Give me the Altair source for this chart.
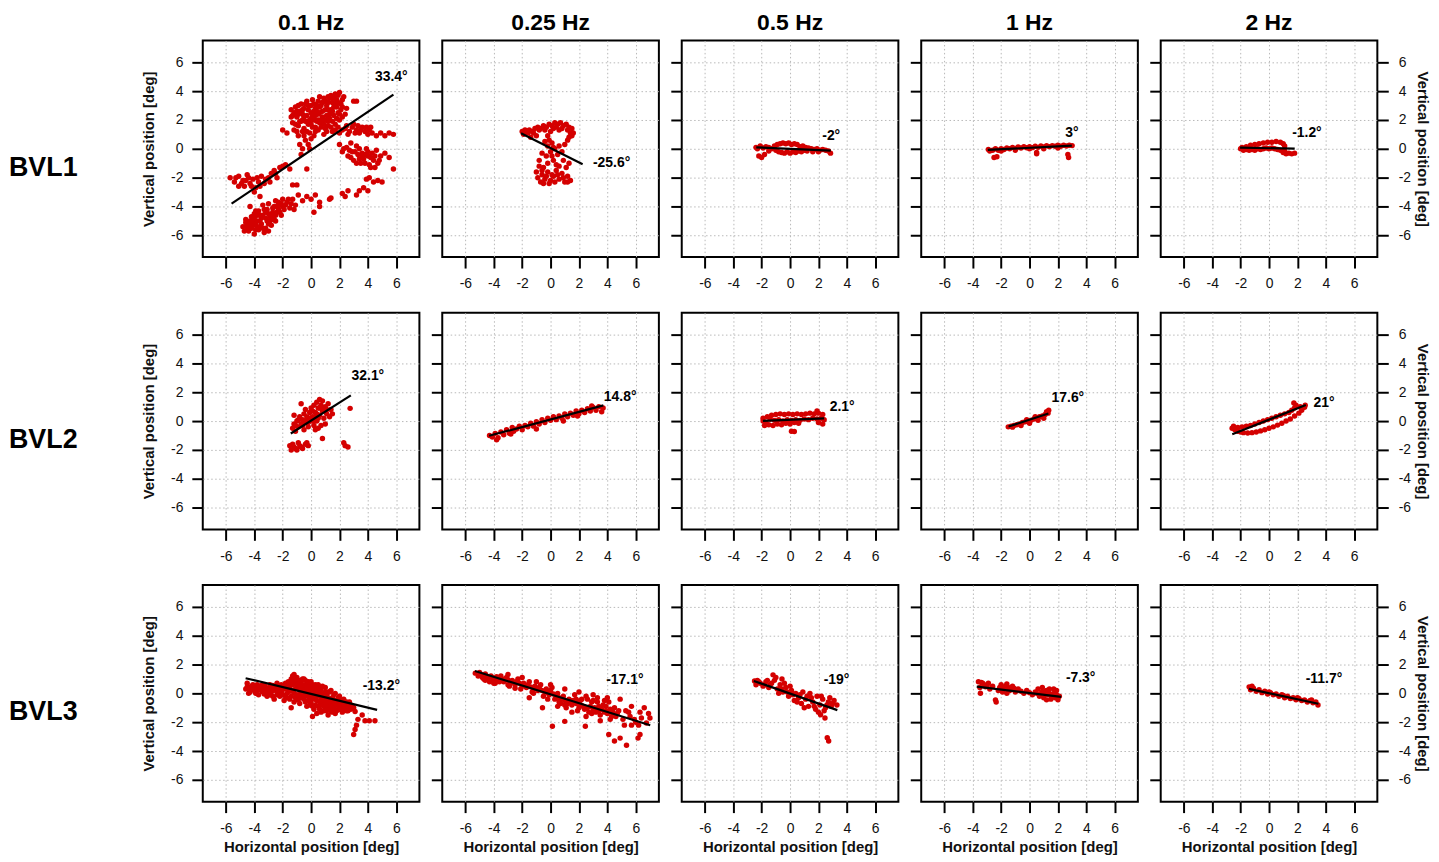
import altair as alt
import pandas as pd

SUBJECTS = ["BVL1", "BVL2", "BVL3"]
FREQS = ["0.1 Hz", "0.25 Hz", "0.5 Hz", "1 Hz", "2 Hz"]
TICKS = [-6, -4, -2, 0, 2, 4, 6]

# ---------- eye position samples (horizontal, vertical) [deg] ----------
BVL1_01 = [
    (-1.4, 2.7), (-1.4, 2.2), (-1.3, 1.8), (-1.2, 2.5), (-1.1, 2.9), (-1.0, 2.2), (-0.9, 1.6), (-0.8, 2.6),
    (-0.7, 3.1), (-0.6, 2.0), (-0.5, 1.4), (-0.5, 2.8), (-0.3, 3.3), (-0.3, 2.3), (-0.2, 1.7), (-0.1, 1.1),
    (0.0, 3.0), (0.0, 2.5), (0.1, 3.4), (0.2, 2.0), (0.3, 1.5), (0.3, 2.8), (0.5, 3.3), (0.5, 2.4),
    (0.6, 1.8), (0.7, 3.0), (0.8, 2.2), (0.9, 3.5), (1.0, 2.7), (1.0, 1.4), (1.2, 3.2), (1.3, 2.4),
    (1.4, 3.7), (1.5, 1.9), (1.6, 2.9), (1.7, 3.8), (1.8, 3.4), (1.9, 2.5), (2.0, 3.9), (2.1, 3.1),
    (2.2, 2.2), (2.3, 3.6), (2.5, 2.8), (3.0, 3.3), (3.2, 3.3),
    (-1.2, 1.3), (-1.0, 2.6), (-0.9, 3.0), (-0.7, 1.9), (-0.6, 2.4), (-0.4, 1.9), (-0.4, 3.1), (-0.2, 2.7),
    (-0.1, 2.0), (0.1, 1.5), (0.1, 2.3), (0.2, 3.1), (0.4, 1.9), (0.4, 2.6), (0.6, 3.6), (0.6, 2.9),
    (0.7, 2.0), (0.8, 2.6), (0.9, 1.7), (1.1, 2.3), (1.1, 3.0), (1.2, 1.9), (1.3, 3.5), (1.4, 2.7),
    (1.5, 3.2), (1.6, 2.3), (1.7, 1.7), (1.8, 2.9), (1.9, 3.7), (2.0, 2.0), (2.1, 2.7), (2.2, 3.4),
    (2.4, 2.4), (-0.3, 1.2), (0.2, 0.9), (-0.5, 0.9), (-0.1, 0.0), (0.3, 1.2),
    (-1.3, 2.3), (-1.1, 1.7), (-0.9, 2.4), (-0.8, 1.9), (-0.6, 2.7), (-0.5, 2.2), (-0.3, 1.9), (-0.2, 3.0),
    (0.0, 2.1), (0.0, 1.7), (0.2, 2.6), (0.3, 2.3), (0.4, 3.0), (0.5, 2.0), (0.6, 2.5), (0.8, 3.2),
    (0.8, 1.8), (1.0, 2.0), (1.0, 3.3), (1.2, 2.7), (1.3, 2.1), (1.5, 3.5), (1.5, 2.6), (1.7, 3.1),
    (1.8, 2.1), (1.9, 3.2), (2.0, 2.4), (2.2, 2.9), (1.6, 3.6), (1.2, 3.6),
    (-0.9, 0.9), (-0.8, 0.3), (-0.6, 0.0), (-0.7, -0.4), (-0.4, 0.6), (-0.2, 0.3), (0.0, 0.7), (-1.0, 1.2),
    (-2.0, 1.3), (-1.7, 1.1), (-0.6, 1.2),
    (0.5, 1.3), (0.9, 1.0), (1.2, 1.6), (1.5, 1.2), (1.9, 1.5), (2.2, 1.3), (2.5, 1.6), (2.7, 1.2),
    (2.9, 1.5), (3.2, 1.3), (3.4, 1.1), (3.6, 1.5), (3.8, 1.2), (4.0, 1.0), (4.3, 1.1), (4.6, 0.9),
    (4.9, 1.1), (5.2, 0.9), (5.5, 1.1), (5.8, 1.0), (4.2, 1.5), (3.0, 1.7),
    (0.7, 1.5), (1.1, 1.2), (1.4, 1.5), (1.7, 1.3), (2.0, 1.1), (2.4, 1.4), (2.6, 1.0), (3.1, 1.1),
    (3.3, 1.6), (3.5, 1.3), (3.9, 1.5), (4.1, 1.3),
    (2.0, 0.3), (2.2, -0.2), (2.5, 0.1), (2.6, -0.5), (2.9, -0.2), (3.0, -0.8), (3.2, 0.2), (3.3, -0.4),
    (3.5, -1.0), (3.6, -0.3), (3.7, -0.7), (3.9, 0.0), (4.0, -0.5), (4.1, -1.1), (4.3, -0.3), (4.4, -0.8),
    (4.6, -0.1), (4.7, -1.0), (4.9, -0.5), (5.2, -0.3), (5.5, -0.6), (5.8, -1.4), (4.5, -1.3), (3.2, -1.0),
    (2.8, 0.4),
    (2.3, 0.0), (2.7, -0.1), (2.8, -0.6), (3.1, -0.2), (3.4, -0.7), (3.4, 0.0), (3.8, -0.4), (3.8, -1.0),
    (4.2, -0.6), (4.5, -0.5), (4.8, -0.8), (4.0, -0.2), (3.6, -0.5), (4.2, -1.3),
    (1.4, -3.4), (2.2, -3.1), (2.4, -3.3), (2.6, -2.9), (3.4, -2.9), (3.7, -2.7), (3.9, -2.1), (4.1, -2.0),
    (4.4, -2.3), (4.7, -2.2), (5.0, -2.3), (3.2, -3.2), (4.0, -2.9),
    (-5.7, -2.0), (-5.4, -2.3), (-5.1, -1.9), (-5.1, -2.6), (-4.8, -2.2), (-4.7, -2.6), (-4.5, -1.8), (-4.3, -2.4),
    (-4.1, -2.1), (-3.9, -2.7), (-3.7, -2.3), (-3.5, -1.9), (-3.3, -2.4), (-3.0, -2.0), (-2.8, -1.7), (-2.6, -1.5),
    (-2.4, -2.0), (-2.2, -1.3), (-2.0, -1.2), (-1.8, -1.1), (-1.5, -1.4), (-1.3, -2.5), (-1.0, -2.5), (-0.3, -1.4),
    (-4.0, -3.0),
    (-5.3, -2.0), (-4.9, -2.4), (-4.6, -2.2), (-4.4, -2.0), (-4.2, -2.6), (-3.8, -2.0), (-3.6, -2.6), (-3.2, -2.1),
    (-2.9, -2.3), (-2.5, -1.7),
    (-4.8, -5.4), (-4.6, -5.1), (-4.4, -5.7), (-4.2, -4.7), (-4.1, -5.3), (-4.0, -5.9), (-3.9, -4.3), (-3.8, -5.0),
    (-3.7, -5.6), (-3.6, -4.6), (-3.5, -5.2), (-3.4, -3.9), (-3.3, -5.8), (-3.2, -4.4), (-3.1, -5.0), (-3.0, -3.8),
    (-2.9, -4.7), (-2.8, -5.3), (-2.7, -4.1), (-2.6, -4.9), (-2.5, -3.6), (-2.4, -4.4), (-2.2, -3.9), (-2.1, -4.6),
    (-2.0, -3.5), (-1.9, -4.2), (-1.7, -3.7), (-1.5, -4.1), (-1.3, -3.5), (-1.1, -3.9), (-0.9, -3.2), (-0.6, -3.6),
    (-0.3, -3.3), (0.0, -3.5), (0.3, -3.2), (0.6, -3.7), (0.2, -4.4), (0.6, -4.0), (1.3, -3.5), (-3.6, -3.3),
    (-4.3, -4.0),
    (-4.7, -5.7), (-4.5, -5.3), (-4.3, -5.0), (-4.0, -4.8), (-3.9, -5.6), (-3.7, -4.3), (-3.6, -5.4), (-3.5, -4.8),
    (-3.3, -4.2), (-3.2, -5.5), (-3.0, -4.5), (-2.9, -5.0), (-3.0, -5.7), (-2.7, -4.6), (-2.6, -4.0), (-2.5, -5.0),
    (-2.3, -4.2), (-2.3, -3.7), (-2.0, -4.0), (-1.8, -3.9), (-1.6, -3.5), (-1.4, -3.8), (-1.2, -4.2), (-3.8, -4.6),
    (-4.2, -5.5), (-4.6, -4.9),
    (-4.5, -5.5), (-4.3, -5.3), (-4.1, -5.0), (-3.9, -5.2), (-3.8, -5.4), (-3.6, -5.0), (-3.4, -5.5), (-3.4, -4.6),
    (-3.2, -4.8), (-3.0, -5.2), (-2.8, -4.9), (-2.7, -4.4), (-2.5, -4.6), (-2.4, -4.0), (-2.2, -4.4), (-2.1, -3.8),
    (-3.1, -4.2), (-4.0, -4.5),
]
BVL1_025 = [
    (-2.0, 1.2), (-1.9, 1.0), (-1.8, 1.3), (-1.6, 1.1), (-1.5, 1.3), (-1.3, 1.2), (-1.1, 1.4), (-0.9, 1.5),
    (-0.7, 1.4), (-0.5, 1.6), (-0.3, 1.5), (-0.1, 1.7), (0.1, 1.6), (0.3, 1.8), (0.5, 1.7), (0.7, 1.8),
    (0.9, 1.6), (1.1, 1.7), (1.3, 1.5), (1.5, 1.4), (1.6, 1.1), (1.5, 0.9), (1.2, 0.6), (1.0, 0.3),
    (1.3, 0.8), (0.6, 1.3), (-0.2, 0.9), (0.0, 1.2), (-1.4, 0.8), (-1.0, 0.9),
    (-1.7, 1.2), (-1.2, 1.1), (-0.8, 1.3), (-0.4, 1.3), (0.2, 1.4), (0.4, 1.5), (0.8, 1.4), (1.2, 1.3),
    (1.4, 1.1),
    (-0.4, 0.5), (-0.2, 0.2), (0.1, 0.4), (0.3, 0.0), (0.0, -0.2), (-0.3, -0.5), (0.2, -0.8), (0.5, -0.4),
    (0.6, 0.2), (-0.6, -0.3), (0.8, -0.2), (0.4, -1.1), (-0.1, 0.6), (0.2, 0.1), (0.1, -0.5), (-0.2, -1.0),
    (0.6, -1.2),
    (-1.0, -1.6), (-0.9, -2.0), (-0.8, -1.2), (-0.7, -2.3), (-0.6, -1.8), (-0.5, -1.3), (-0.4, -2.1), (-0.2, -1.6),
    (0.0, -2.2), (0.2, -1.9), (0.4, -1.5), (0.6, -2.1), (0.8, -1.7), (1.0, -2.3), (1.2, -1.9), (1.4, -2.2),
    (1.1, -1.3), (1.3, -1.0), (-0.8, -0.8), (-0.1, -2.4), (0.9, -0.8),
    (-0.5, -2.4), (-0.3, -1.9), (0.1, -1.8), (0.5, -1.8), (0.9, -2.0), (1.2, -2.3), (-0.6, -1.5), (0.3, -2.3),
]
BVL1_05 = [
    (-2.4, 0.1), (-2.3, 0.0), (-2.2, -0.5), (-2.0, -0.6), (-1.8, -0.4), (-2.1, 0.2), (-1.9, 0.05), (-1.7, 0.15),
    (-1.5, 0.1), (-1.3, 0.0), (-1.1, 0.2), (-0.9, 0.3), (-0.7, 0.35), (-0.5, 0.4), (-0.3, 0.35), (-0.1, 0.4),
    (0.1, 0.3), (0.3, 0.35), (0.5, 0.3), (-1.0, -0.1), (-0.8, -0.2), (-0.6, -0.25), (-0.4, -0.3), (-0.2, -0.2),
    (0.0, -0.3), (0.2, -0.2), (0.4, -0.25), (0.6, -0.15), (0.8, -0.2), (1.0, -0.1), (1.2, -0.15), (0.7, 0.15),
    (0.9, 0.2), (1.1, 0.1), (1.3, 0.05), (1.5, 0.0), (1.7, -0.05), (1.9, 0.0), (2.1, -0.1), (2.3, -0.05),
    (2.5, -0.1), (2.7, -0.15), (2.85, -0.3), (1.6, -0.2), (2.0, -0.2), (-1.5, -0.15),
]
BVL1_1 = [
    (-2.9, -0.05), (-2.8, -0.15), (-2.6, -0.1), (-2.5, -0.6), (-2.3, -0.55), (-2.4, 0.0), (-2.2, -0.1), (-2.0, 0.0),
    (-1.8, -0.05), (-1.6, 0.05), (-1.4, 0.0), (-1.2, 0.1), (-1.0, 0.02), (-0.8, 0.12), (-0.6, 0.05), (-0.4, 0.15),
    (-0.2, 0.07), (0.0, 0.15), (0.2, 0.08), (0.4, 0.18), (0.5, -0.25), (0.5, -0.35), (0.6, 0.1), (0.8, 0.2),
    (1.0, 0.12), (1.2, 0.22), (1.4, 0.15), (1.6, 0.22), (1.8, 0.17), (2.0, 0.25), (2.2, 0.18), (2.4, 0.25),
    (2.6, 0.2), (2.7, -0.4), (2.75, -0.6), (2.8, 0.25), (3.0, 0.22), (-1.0, -0.1), (0.0, 0.0), (1.0, 0.0),
    (2.0, 0.05), (-2.0, -0.15),
]
BVL1_2 = [
    (-2.0, 0.0), (-1.8, -0.1), (-1.6, -0.05), (-1.4, -0.1), (-1.2, -0.05), (-1.0, -0.1), (-0.8, 0.0), (-0.6, -0.05),
    (-0.4, 0.0), (-0.2, 0.05), (0.0, 0.0), (0.2, 0.05), (0.4, 0.0), (0.6, -0.05), (0.8, -0.1), (1.0, -0.25),
    (1.2, -0.35), (1.4, -0.3), (1.6, -0.35), (1.8, -0.3), (1.1, -0.15),
    (-1.6, 0.15), (-1.3, 0.25), (-1.0, 0.3), (-0.7, 0.35), (-0.4, 0.4), (-0.1, 0.45), (0.2, 0.45), (0.5, 0.5),
    (0.8, 0.45), (1.0, 0.35), (1.1, 0.2), (-1.9, 0.1),
]
BVL2_01 = [
    (-1.3, -0.5), (-1.2, -0.2), (-1.1, -0.7), (-1.0, 0.0), (-0.9, -0.4), (-0.8, 0.3), (-0.7, -0.2), (-0.6, 0.1),
    (-0.5, -0.6), (-0.5, 0.5), (-0.4, -0.1), (-0.3, 0.3), (-0.2, -0.4), (-0.1, 0.6), (0.0, 0.0), (0.0, 0.9),
    (0.1, 0.3), (0.2, -0.3), (0.2, 1.1), (0.3, 0.6), (0.4, 0.0), (0.4, 1.3), (0.5, 0.9), (0.6, 0.4),
    (0.6, 1.5), (0.7, 1.1), (0.8, 0.7), (0.8, 1.4), (0.9, 0.2), (1.0, 1.0), (1.1, 0.5), (1.2, 1.2),
    (1.3, 0.3), (1.4, 0.8), (1.5, 0.5), (0.3, -0.6), (0.5, -0.5), (0.7, -0.3), (1.0, -0.2), (0.8, -1.2),
    (-0.7, 1.2), (-0.4, 0.8), (-1.2, 0.4),
    (-1.1, -0.3), (-0.9, 0.1), (-0.6, -0.3), (-0.3, 0.0), (-0.1, 0.2), (0.1, 0.7), (0.3, 0.3), (0.5, 0.2),
    (0.6, 0.9), (0.9, 0.9), (1.1, 0.8), (0.4, 0.5), (-0.2, -0.1), (0.2, 0.0),
    (-1.5, -1.7), (-1.4, -2.0), (-1.2, -1.8), (-1.0, -2.0), (-0.8, -1.7), (-0.6, -1.9), (-0.4, -1.6), (-0.2, -1.7),
    (-1.3, -1.6), (-0.9, -1.5), (-1.1, -1.9), (-0.7, -1.8), (-0.3, -1.5),
    (2.75, 0.88), (2.3, -1.5), (2.4, -1.7), (2.6, -1.8),
]
BVL2_025 = [
    (-4.3, -1.0), (-4.1, -1.1), (-3.9, -0.85), (-3.7, -1.15), (-3.5, -0.75), (-3.3, -0.95), (-3.1, -0.6), (-2.9, -0.85),
    (-2.7, -0.45), (-2.6, -0.7), (-2.4, -0.55), (-2.2, -0.35), (-2.0, -0.6), (-1.8, -0.3), (-1.6, -0.4), (-1.4, -0.15),
    (-1.2, -0.35), (-1.0, -0.05), (-0.8, -0.2), (-0.6, 0.1), (-0.4, -0.1), (-0.2, 0.2), (0.0, 0.05), (0.2, 0.3),
    (0.4, 0.1), (0.6, 0.35), (0.8, 0.2), (1.0, 0.5), (1.2, 0.3), (1.4, 0.55), (1.6, 0.4), (1.8, 0.7),
    (2.0, 0.5), (2.2, 0.75), (2.4, 0.6), (2.6, 0.85), (2.8, 0.7), (3.0, 0.95), (3.2, 0.75), (3.4, 1.0),
    (3.6, 0.65), (3.7, 0.9), (-3.8, -1.3), (-2.8, -0.9), (0.9, 0.0), (1.9, 0.35), (-1.0, -0.55), (2.9, 1.05),
]
BVL2_05 = [
    (-1.6, 0.3), (-1.3, 0.4), (-1.0, 0.45), (-0.7, 0.5), (-0.4, 0.45), (-0.1, 0.5), (0.2, 0.45), (0.5, 0.5),
    (0.8, 0.45), (1.1, 0.5), (1.4, 0.55), (1.7, 0.5), (2.0, 0.55), (2.3, 0.45), (1.9, 0.7),
    (-1.9, 0.0), (-1.9, 0.2), (-1.7, -0.1), (-1.4, 0.15), (-1.1, 0.05), (-0.8, 0.1), (-0.5, 0.0), (-0.2, 0.1),
    (0.1, 0.05), (0.4, 0.1), (0.7, 0.05), (1.0, 0.15), (1.3, 0.1), (1.6, 0.2), (1.9, 0.15), (2.2, 0.2),
    (2.4, 0.1),
    (-1.8, -0.3), (-1.5, -0.25), (-1.2, -0.3), (-0.9, -0.2), (-0.6, -0.25), (-0.3, -0.15), (0.0, -0.2), (0.3, -0.1),
    (0.6, -0.15), (2.0, -0.1), (2.3, -0.2), (0.1, -0.7), (0.3, -0.72),
]
BVL2_1 = [
    (-1.5, -0.4), (-1.3, -0.35), (-1.1, -0.3), (-0.9, -0.25), (-0.7, -0.2), (-0.5, -0.1), (-0.3, -0.05), (-0.1, 0.0),
    (0.1, 0.05), (0.3, 0.15), (0.5, 0.2), (0.7, 0.3), (0.9, 0.35), (1.1, 0.45), (1.3, 0.55), (1.35, 0.75),
    (1.2, 0.65), (-1.2, -0.42), (-0.6, -0.3), (0.0, -0.15), (0.6, 0.05), (1.0, 0.2), (0.4, 0.3), (-0.2, 0.1),
]
BVL2_2 = [
    (-2.6, -0.5), (-2.4, -0.6), (-2.2, -0.7), (-2.0, -0.75), (-1.8, -0.8), (-1.5, -0.82), (-1.2, -0.8), (-0.9, -0.75),
    (-0.6, -0.68), (-0.3, -0.6), (0.0, -0.5), (0.3, -0.4), (0.6, -0.28), (0.9, -0.15), (1.2, 0.0), (1.5, 0.15),
    (1.8, 0.35), (2.1, 0.55), (2.3, 0.75), (2.5, 0.95), (2.55, 1.1),
    (-2.5, -0.35), (-2.2, -0.45), (-1.9, -0.4), (-1.6, -0.35), (-1.3, -0.3), (-1.0, -0.2), (-0.7, -0.1), (-0.4, 0.0),
    (-0.1, 0.1), (0.2, 0.2), (0.5, 0.3), (0.8, 0.4), (1.1, 0.5), (1.4, 0.6), (1.6, 0.75), (1.8, 0.9),
    (1.75, 1.25), (1.9, 1.1), (2.2, 1.0),
]
BVL3_01 = [
    (-4.6, 0.3), (-4.5, 0.7), (-4.4, 0.0), (-4.2, 0.5), (-4.0, 0.2), (-3.8, 0.6), (-3.7, -0.1), (-3.5, 0.3),
    (-3.4, 0.13), (-3.3, 0.6), (-3.1, -0.2), (-3.0, 0.35), (-2.8, 0.1), (-2.7, 0.55), (-2.6, -0.4), (-2.5, 0.2),
    (-2.3, 0.5), (-2.2, -0.2), (-2.0, 0.3), (-1.9, -0.5), (-1.8, 0.7), (-1.7, 0.0), (-1.5, 0.5), (-1.5, -0.4),
    (-1.4, 1.0), (-1.3, 0.2), (-1.2, 1.3), (-1.2, -0.6), (-1.1, 0.7), (-1.0, -0.1), (-1.0, 1.1), (-0.9, 0.4),
    (-0.8, -0.7), (-0.8, 0.9), (-0.7, 0.1), (-0.6, 0.6), (-0.5, -0.4), (-0.5, 1.0), (-0.4, 0.2), (-0.3, -0.9),
    (-0.3, 0.7), (-0.2, -0.2), (-0.1, 0.4), (0.0, -0.6), (0.0, 0.8), (0.1, 0.0), (0.2, -1.1), (0.2, 0.5),
    (0.3, -0.4), (0.4, 0.2), (0.5, -0.9), (0.5, 0.6), (0.6, -0.2), (0.7, -1.3), (0.7, 0.3), (0.8, -0.6),
    (0.9, 0.0), (1.0, -1.0), (1.0, 0.4), (1.1, -0.4), (1.2, -1.5), (1.2, 0.1), (1.3, -0.7), (1.4, -1.2),
    (1.4, 0.2), (1.5, -0.3), (1.6, -0.9), (1.7, -1.4), (1.7, 0.0), (1.8, -0.5), (1.9, -1.1), (2.0, -0.2),
    (2.1, -0.8), (2.2, -1.3), (2.3, -0.4), (2.4, -1.0), (2.5, -0.6), (2.6, -1.2), (2.8, -0.8), (3.0, -1.0),
    (0.1, -1.6), (-1.4, -1.0), (-3.45, 0.13), (0.4, -1.4),
    (-4.3, 0.3), (-4.1, 0.6), (-3.9, 0.0), (-3.6, 0.5), (-3.2, 0.4), (-2.9, 0.6), (-2.9, -0.1), (-2.6, 0.3),
    (-2.4, -0.1), (-2.4, 0.7), (-2.1, 0.1), (-2.1, 0.6), (-1.9, 0.3), (-1.8, -0.2), (-1.6, 0.8), (-1.6, 0.2),
    (-1.4, -0.2), (-1.3, 0.6), (-1.3, 1.2), (-1.1, 0.3), (-1.1, -0.3), (-0.9, 0.9), (-0.9, -0.4), (-0.7, 0.5),
    (-0.7, -0.3), (-0.6, 1.0), (-0.6, -0.1), (-0.5, 0.4), (-0.4, 0.9), (-0.4, -0.6), (-0.2, 0.5), (-0.2, -0.5),
    (-0.1, 0.1), (-0.1, -0.8), (0.1, 0.6), (0.1, -0.3), (0.2, 0.2), (0.3, -0.8), (0.3, 0.6), (0.4, -0.1),
    (0.5, 0.3), (0.6, -0.6), (0.6, -1.1), (0.7, 0.0), (0.8, -0.3), (0.8, 0.5), (0.9, -0.9), (1.0, -0.6),
    (1.1, -0.1), (1.1, -1.2), (1.2, -0.3), (1.3, -1.0), (1.3, 0.1), (1.5, -0.6), (1.5, -1.3), (1.6, -0.1),
    (1.7, -0.7), (1.8, -1.2), (1.9, -0.3), (2.0, -0.9), (2.1, -0.5), (2.2, -1.0), (2.4, -0.7), (2.5, -1.2),
    (2.7, -1.0), (2.7, -0.6), (2.9, -0.9), (-0.8, 0.2), (0.0, -0.3), (0.9, -0.6),
    (-4.5, 0.45), (-4.3, 0.1), (-4.1, 0.35), (-3.9, 0.45), (-3.7, 0.25), (-3.5, 0.55), (-3.3, -0.05), (-3.2, 0.2),
    (-3.0, 0.05), (-2.8, 0.4), (-2.7, -0.2), (-2.5, 0.45), (-2.3, 0.2), (-2.2, 0.35), (-2.0, -0.1), (-1.9, 0.55),
    (-1.7, 0.45), (-1.7, -0.3), (-1.5, 0.15), (-1.4, 0.7), (-1.2, 0.0), (-1.2, 0.9), (-1.0, 0.4), (-1.0, -0.45),
    (-0.9, 0.65), (-0.8, -0.2), (-0.7, 0.8), (-0.6, 0.3), (-0.5, -0.2), (-0.4, 0.5), (-0.3, 0.0), (-0.2, 0.8),
    (-0.1, -0.4), (0.0, 0.2), (0.1, -0.9), (0.2, 0.35), (0.3, -0.2), (0.4, -0.5), (0.5, 0.0), (0.6, 0.4),
    (0.7, -0.8), (0.8, -0.1), (0.9, -1.2), (1.0, 0.1), (1.1, -0.8), (1.2, -0.6), (1.4, -0.4), (1.4, -0.9),
    (1.6, -0.5), (1.6, -1.1), (1.8, -0.8), (1.9, -0.6), (2.0, -1.1), (2.2, -0.6), (2.3, -0.8), (2.6, -0.9),
    (2.8, -1.1), (0.3, 0.1), (-0.3, 0.4), (0.7, -0.5),
    (3.1, -1.25), (3.3, -1.8), (3.1, -2.5), (3.0, -2.85), (3.2, -2.2), (3.8, -1.9), (4.1, -1.9), (4.5, -1.9),
    (3.6, -1.5),
]
BVL3_025 = [
    (-5.3, 1.4), (-5.1, 1.2), (-4.9, 1.3), (-4.7, 1.0), (-4.5, 1.2), (-4.3, 0.8), (-4.1, 1.1), (-3.9, 0.7),
    (-3.7, 1.0), (-3.5, 1.2), (-3.3, 0.8), (-3.1, 1.1), (-2.9, 0.5), (-2.7, 0.9), (-2.5, 0.6), (-2.3, 1.0),
    (-2.1, 0.3), (-1.9, 0.7), (-1.7, 0.4), (-1.5, 0.8), (-1.3, 0.1), (-1.1, 0.5), (-0.9, 0.2), (-0.7, 0.6),
    (-0.5, -0.2), (-0.3, 0.3), (-0.1, -0.1), (0.1, 0.4), (0.3, -0.4), (0.5, 0.0), (0.7, -0.7), (0.9, -0.2),
    (1.1, -1.0), (1.3, -0.4), (1.5, -0.8), (1.7, -0.1), (1.9, -1.2), (2.1, -0.5), (2.3, -0.9), (2.5, -0.2),
    (2.7, -1.3), (2.9, -0.6), (3.1, -1.0), (3.3, -0.3), (3.5, -1.5), (3.7, -0.8), (3.9, -1.2), (4.1, -0.6),
    (4.3, -1.6), (4.5, -1.0), (4.7, -1.4), (4.9, -0.4), (5.1, -1.8), (5.3, -1.2), (5.6, -1.6), (5.7, -0.9),
    (6.0, -2.0), (6.3, -1.3), (6.6, -1.0), (6.9, -1.4), (7.0, -1.7), (6.75, -2.05), (-0.57, -1.0), (0.13, -2.28),
    (1.0, -1.94), (2.45, -2.28), (4.1, -2.85), (4.5, -3.3), (4.9, -3.1), (5.35, -3.6), (6.16, -3.1), (6.3, -2.85),
    (5.2, -2.2), (5.7, -2.2), (6.2, -2.2), (-4.0, 0.7), (-3.0, 1.3), (-2.0, 1.1), (-1.0, 0.8), (0.0, 0.6),
    (1.0, 0.3), (2.0, 0.1), (3.0, -0.1), (4.0, -0.3), (1.5, -1.3), (2.5, -1.6), (3.5, -1.9), (0.5, -0.9),
    (-1.5, -0.3),
    (-4.8, 1.1), (-4.4, 1.0), (-4.0, 0.9), (-3.6, 0.8), (-3.2, 0.9), (-2.8, 0.7), (-2.4, 0.8), (-2.0, 0.5),
    (-1.6, 0.6), (-1.2, 0.3), (-0.8, 0.4), (-0.4, 0.1), (0.0, 0.2), (0.4, -0.2), (0.8, -0.4), (1.2, -0.7),
    (1.6, -0.5), (2.0, -0.7), (2.4, -1.1), (2.8, -0.9), (3.2, -1.3), (3.6, -1.1), (4.0, -1.4), (4.4, -1.3),
    (2.2, -0.4), (3.0, -0.5), (3.4, -0.9), (3.8, -0.5), (2.6, -0.4),
    (-5.0, 1.45), (-4.6, 1.35), (-4.2, 1.2), (-3.8, 1.15), (-3.4, 1.0), (-3.0, 0.95), (-2.6, 0.75), (-2.2, 0.7),
    (-1.8, 0.55), (-1.4, 0.45), (-1.0, 0.35), (-0.6, 0.2), (-0.2, 0.05), (0.2, -0.05), (0.6, -0.3), (1.0, -0.5),
    (1.4, -0.5), (1.8, -0.7), (2.2, -0.85), (2.6, -1.0), (3.0, -1.1), (3.4, -1.2), (3.8, -1.3), (4.2, -1.1),
    (4.6, -1.6), (-4.6, 0.9), (-3.0, 0.6), (-2.5, 0.35), (-1.2, 0.0), (-0.2, -0.4), (0.6, -0.6), (1.0, -0.8),
    (1.8, -0.4), (2.0, -1.0), (2.9, -1.4), (3.3, -0.6), (3.9, -0.9), (4.2, -1.8), (4.8, -1.2), (5.5, -1.3),
    (6.4, -1.7), (5.9, -1.8),
]
BVL3_05 = [
    (-2.5, 0.85), (-2.4, 0.6), (-2.3, 0.9), (-2.1, 0.7), (-1.9, 0.5), (-1.7, 0.8), (-1.5, 0.4), (-1.3, 0.7),
    (-1.2, 1.28), (-1.0, 1.1), (-0.9, 0.3), (-0.7, 0.6), (-0.57, 1.0), (-0.5, 0.1), (-0.3, 0.4), (-0.1, -0.2),
    (0.1, 0.2), (0.3, -0.5), (0.4, 0.0), (0.6, -0.3), (0.8, -0.7), (0.9, 0.1), (1.1, -0.4), (1.3, -0.9),
    (1.4, 0.0), (1.6, -0.6), (1.8, -1.1), (1.9, -0.2), (2.1, -0.8), (2.15, -1.48), (2.3, -0.4), (2.46, -1.7),
    (2.5, -1.0), (2.7, -0.6), (2.9, -0.9), (3.1, -0.5), (3.3, -0.8), (2.62, -3.08), (2.72, -3.3), (-1.6, 0.9),
    (-0.8, 0.0), (0.0, 0.5), (1.0, -1.0), (2.0, -1.3), (-0.2, 0.1), (0.7, -0.1), (1.5, -0.3), (2.2, -0.2),
    (-2.2, 0.8), (-1.8, 0.6), (-1.4, 0.6), (-1.1, 0.9), (-0.6, 0.3), (-0.4, 0.7), (0.2, -0.1), (0.5, -0.6),
    (1.2, -0.2), (1.7, -0.9), (2.4, -1.2), (2.6, -0.8), (2.8, -0.3), (3.0, -0.7),
]
BVL3_1 = [
    (-3.6, 0.8), (-3.4, 0.75), (-3.2, 0.6), (-3.0, 0.55), (-3.46, 0.01), (-3.5, 0.4), (-2.4, -0.45), (-2.35, -0.6),
    (-2.8, 0.3), (-2.6, 0.5), (-2.2, 0.2), (-2.0, 0.6), (-1.8, 0.3), (-1.6, 0.65), (-1.4, 0.2), (-1.2, 0.5),
    (-1.0, 0.1), (-1.6, 0.0), (-1.9, 0.1), (-0.8, 0.3), (-0.6, 0.15), (-0.4, 0.0), (-0.2, 0.2), (0.0, 0.05),
    (0.2, -0.1), (0.4, 0.1), (0.6, 0.3), (0.7, -0.2), (0.9, 0.4), (1.0, -0.3), (1.1, 0.1), (1.3, -0.1),
    (1.4, 0.3), (1.5, -0.4), (1.7, 0.0), (1.8, -0.3), (1.9, 0.2), (2.1, -0.2), (2.0, -0.45), (1.2, -0.45),
    (0.8, 0.0),
    (-3.3, 0.7), (-3.1, 0.45), (-2.9, 0.7), (-2.1, 0.4), (-1.7, 0.5), (-1.5, 0.4), (-1.3, 0.3), (-1.1, 0.35),
    (-0.9, 0.2), (0.5, 0.0), (0.9, 0.1), (1.2, 0.2), (1.6, -0.2), (1.9, -0.1), (2.0, -0.3), (1.0, 0.0),
    (1.4, 0.0), (1.7, 0.3),
]
BVL3_2 = [
    (-1.4, 0.45), (-1.3, 0.25), (-1.1, 0.35), (-0.9, 0.15), (-0.7, 0.25), (-0.5, 0.05), (-0.3, 0.15), (-0.1, -0.05),
    (0.1, 0.05), (0.3, -0.1), (0.5, -0.05), (0.7, -0.2), (0.9, -0.1), (1.1, -0.3), (1.3, -0.2), (1.5, -0.35),
    (1.7, -0.3), (1.9, -0.45), (2.1, -0.35), (2.3, -0.5), (2.5, -0.45), (2.7, -0.6), (2.9, -0.5), (3.1, -0.65),
    (3.3, -0.6), (3.45, -0.8), (-1.2, 0.5), (0.0, 0.1), (1.0, -0.15), (2.0, -0.3), (3.0, -0.45),
]

POINTS = [
    [BVL1_01, BVL1_025, BVL1_05, BVL1_1, BVL1_2],
    [BVL2_01, BVL2_025, BVL2_05, BVL2_1, BVL2_2],
    [BVL3_01, BVL3_025, BVL3_05, BVL3_1, BVL3_2],
]

# regression line end points (x1, y1, x2, y2)
FIT_LINES = [
    [(-5.6, -3.8, 5.8, 3.75), (-2.08, 1.07, 2.26, -1.07), (-2.38, 0.1, 2.87, -0.13), (-2.94, -0.08, 2.98, 0.22), (-2.04, 0.08, 1.81, 0.01)],
    [(-1.43, -0.86, 2.8, 1.78), (-4.33, -1.02, 3.72, 1.09), (-1.91, 0.01, 2.4, 0.19), (-1.48, -0.38, 1.33, 0.52), (-2.59, -0.91, 2.59, 1.11)],
    [(-4.61, 1.05, 4.65, -1.14), (-5.33, 1.55, 7.02, -2.21), (-2.55, 0.86, 3.33, -1.16), (-3.72, 0.47, 2.23, -0.24), (-1.41, 0.31, 3.48, -0.72)],
]
ANGLE_TEXT = [
    ["33.4°", "-25.6°", "-2°", "3°", "-1.2°"],
    ["32.1°", "14.8°", "2.1°", "17.6°", "21°"],
    ["-13.2°", "-17.1°", "-19°", "-7.3°", "-11.7°"],
]
ANGLE_POS = [
    [(5.65, 5.0), (4.3, -1.0), (2.9, 0.88), (2.98, 1.07), (2.67, 1.07)],
    [(4.0, 3.1), (4.9, 1.66), (3.67, 1.0), (2.7, 1.62), (3.87, 1.27)],
    [(4.95, 0.54), (5.23, 0.89), (3.27, 0.89), (3.6, 1.05), (3.87, 0.98)],
]

# ---------- styling ----------
FONT = "Liberation Sans"
RED = "#d40000"
W, H = 218, 218
XS = alt.Scale(domain=[-7.63, 7.63], nice=False, zero=False)
YS = alt.Scale(domain=[-7.5, 7.5], nice=False, zero=False)
LABEL_EXPR = "datum.value + ''"


def x_axis(row):
    kw = dict(values=TICKS, grid=True, tickSize=11, labelPadding=9, labelExpr=LABEL_EXPR)
    if row == 2:
        return alt.Axis(title="Horizontal position [deg]", titlePadding=4, **kw)
    return alt.Axis(title=None, **kw)


def y_axis_left(col):
    kw = dict(values=TICKS, grid=True, tickSize=11, orient="left")
    if col == 0:
        return alt.Axis(title="Vertical position [deg]", labelPadding=9, titlePadding=14,
                        labelExpr=LABEL_EXPR, **kw)
    return alt.Axis(title=None, labels=False, **kw)


def y_axis_right():
    return alt.Axis(values=TICKS, grid=False, tickSize=11, orient="right", labelPadding=10,
                    title="Vertical position [deg]", titlePadding=4, labelExpr=LABEL_EXPR)


def panel(r, c):
    pts = pd.DataFrame(POINTS[r][c], columns=["h", "v"])
    x1, y1, x2, y2 = FIT_LINES[r][c]
    ln = pd.DataFrame({"h": [x1, x2], "v": [y1, y2]})
    tx = pd.DataFrame({"h": [ANGLE_POS[r][c][0]], "v": [ANGLE_POS[r][c][1]], "t": [ANGLE_TEXT[r][c]]})

    xenc = alt.X("h:Q", scale=XS, axis=x_axis(r))
    yenc = alt.Y("v:Q", scale=YS, axis=y_axis_left(c))

    scatter = alt.Chart(pts).mark_circle(color=RED, size=30, opacity=1).encode(x=xenc, y=yenc)
    label = alt.Chart(tx).mark_text(font=FONT, fontSize=14, fontWeight="bold", color="black").encode(
        x=xenc, y=yenc, text="t:N"
    )
    if c == 4:
        fit = alt.Chart(ln).mark_line(color="black", strokeWidth=2.2).encode(
            x=xenc, y=alt.Y("v:Q", scale=YS, axis=y_axis_right())
        )
        ch = alt.layer(alt.layer(scatter, label), fit).resolve_axis(y="independent")
    else:
        fit = alt.Chart(ln).mark_line(color="black", strokeWidth=2.2).encode(x=xenc, y=yenc)
        layers = [scatter, fit, label]
        if c == 0:
            rowlab = alt.Chart(pd.DataFrame({"t": [SUBJECTS[r]]})).mark_text(
                font=FONT, fontSize=27, fontWeight="bold", align="left", baseline="middle", color="black"
            ).encode(x=alt.value(-195), y=alt.value(128), text="t:N")
            layers.append(rowlab)
        ch = alt.layer(*layers)
    props = dict(width=W, height=H)
    if r == 0:
        props["title"] = alt.TitleParams(text=FREQS[c], fontSize=23, fontWeight="bold", font=FONT,
                                         offset=6, anchor="middle", color="black")
    return ch.properties(**props)


rows = [alt.hconcat(*[panel(r, c) for c in range(5)], spacing=9) for r in range(3)]
chart = alt.vconcat(*rows, spacing=20).properties(
    padding={"left": 0, "top": 0, "right": 0, "bottom": 0}
).configure(font=FONT).configure_view(
    stroke="black", strokeWidth=2
).configure_axis(
    labelFont=FONT, labelFontSize=14, labelColor="#111111",
    titleFont=FONT, titleFontSize=15, titleFontWeight="bold", titleColor="#111111",
    tickColor="black", tickWidth=2, domain=False,
    gridColor="#b8b8b8", gridDash=[1.5, 2.5], gridWidth=1,
)

chart.save("out.html", embed_options={"renderer": "svg", "actions": False})
